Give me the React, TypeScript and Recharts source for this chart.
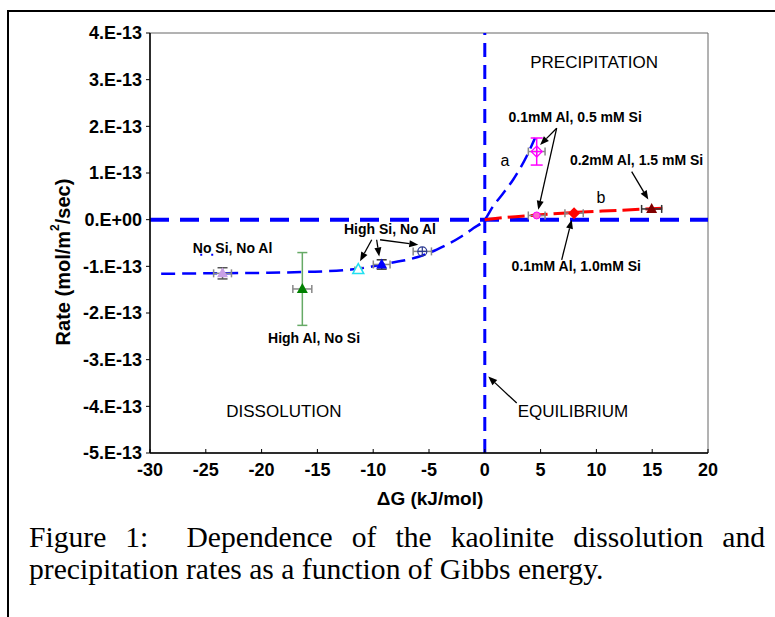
import React from 'react'
import {
  ComposedChart,
  Line,
  Scatter,
  XAxis,
  YAxis,
  ReferenceLine,
  ReferenceDot,
  ReferenceArea,
  ErrorBar
} from 'recharts'

const SANS = '"Liberation Sans", Arial, sans-serif'
const SERIF = '"Liberation Serif", "Times New Roman", serif'

const xTicks = [-30, -25, -20, -15, -10, -5, 0, 5, 10, 15, 20]
const yTicks = [-5e-13, -4e-13, -3e-13, -2e-13, -1e-13, 0, 1e-13, 2e-13, 3e-13, 4e-13]

// curve a (blue) and curve b (red)
const curveA = [
  { x: -29, y: -1.16e-13 },
  { x: -25, y: -1.15e-13 },
  { x: -20, y: -1.14e-13 },
  { x: -16, y: -1.12e-13 },
  { x: -12, y: -1.07e-13 },
  { x: -10, y: -1.0e-13 },
  { x: -8.5, y: -0.93e-13 },
  { x: -6, y: -0.8e-13 },
  { x: -4.3, y: -0.64e-13 },
  { x: -2.1, y: -0.36e-13 },
  { x: -1, y: -0.18e-13 },
  { x: 0, y: 0 },
  { x: 0.75, y: 0.29e-13 },
  { x: 1.6, y: 0.55e-13 },
  { x: 2.55, y: 0.86e-13 },
  { x: 3.75, y: 1.36e-13 },
  { x: 4.5, y: 1.75e-13 }
]
const curveB = [
  { x: 0, y: 0 },
  { x: 2, y: 0.05e-13 },
  { x: 4.65, y: 0.1e-13 },
  { x: 8, y: 0.155e-13 },
  { x: 12, y: 0.2e-13 },
  { x: 16.3, y: 0.25e-13 }
]
const strayDots = [
  { x: -25.5, y: -0.75e-13 },
  { x: -24.3, y: -0.75e-13 }
]

// measured points (ex = x error, ey = y error)
const noSiNoAl = [{ x: -23.5, y: -1.15e-13, ex: 0.8, ey: 0.12e-13 }]
const highAlNoSi = [{ x: -16.35, y: -1.485e-13, ex: 0.85, ey: 0.78e-13 }]
const highSiOpen = [{ x: -11.34, y: -1.07e-13, ex: 0.3, ey: 0.03e-13 }]
const highSiFilled = [{ x: -9.24, y: -0.96e-13, ex: 0.75, ey: 0.1e-13 }]
const highSiCircle = [{ x: -5.6, y: -0.68e-13, ex: 0.82, ey: 0.05e-13 }]
const al01si05High = [{ x: 4.65, y: 1.46e-13, ex: 0.75, ey: 0.29e-13 }]
const al01si05Low = [{ x: 4.65, y: 0.09e-13, ex: 0.75 }]
const al01si10 = [{ x: 8.0, y: 0.14e-13, ex: 0.82 }]
const al02si15 = [{ x: 14.95, y: 0.23e-13, ex: 0.9, ey: 0.04e-13 }]

const regionLabels = [
  { text: 'PRECIPITATION', x: 9.8, y: 3.36e-13 },
  { text: 'DISSOLUTION', x: -18.0, y: -4.11e-13 },
  { text: 'EQUILIBRIUM', x: 7.9, y: -4.11e-13 }
]
const noteLabels = [
  { text: '0.1mM Al, 0.5 mM Si', x: 8.1, y: 2.21e-13 },
  { text: '0.2mM Al, 1.5 mM Si', x: 13.6, y: 1.27e-13 },
  { text: '0.1mM Al, 1.0mM Si', x: 8.2, y: -1.0e-13 },
  { text: 'High Si, No Al', x: -8.5, y: -0.21e-13 },
  { text: 'No Si, No Al', x: -22.6, y: -0.61e-13 },
  { text: 'High Al, No Si', x: -15.3, y: -2.54e-13 }
]
const curveLabels = [
  { text: 'a', x: 1.8, y: 1.27e-13 },
  { text: 'b', x: 10.4, y: 0.47e-13 }
]

const arrows = [
  { x1: 6.44, y1: 1.96e-13, x2: 4.95, y2: 1.6e-13 },
  { x1: 6.44, y1: 1.96e-13, x2: 4.79, y2: 0.21e-13 },
  { x1: 13.16, y1: 1.03e-13, x2: 14.65, y2: 0.43e-13 },
  { x1: 6.89, y1: -0.86e-13, x2: 7.79, y2: 0.0 },
  { x1: -10.13, y1: -0.43e-13, x2: -11.18, y2: -0.89e-13 },
  { x1: -9.69, y1: -0.43e-13, x2: -9.46, y2: -0.79e-13 },
  { x1: -9.39, y1: -0.43e-13, x2: -5.96, y2: -0.54e-13 },
  { x1: 2.86, y1: -3.93e-13, x2: 0.31, y2: -3.36e-13 }
]

const fmtY = (v: number) => {
  const n = Math.round(v / 1e-13)
  return n === 0 ? '0.E+00' : `${n}.E-13`
}

const arrowShape = (p: any) => {
  const { x1, y1, x2, y2 } = p
  const ang = Math.atan2(y2 - y1, x2 - x1)
  const len = 9
  const w = 3.5
  const bx = x2 - len * Math.cos(ang)
  const by = y2 - len * Math.sin(ang)
  const px = -Math.sin(ang) * w
  const py = Math.cos(ang) * w
  return (
    <g>
      <line x1={x1} y1={y1} x2={bx} y2={by} stroke="#000" strokeWidth={1.3} />
      <polygon points={`${x2},${y2} ${bx + px},${by + py} ${bx - px},${by - py}`} fill="#000" />
    </g>
  )
}

const textShape = (text: string, size: number, weight: number) => (p: any) => (
  <text
    x={p.cx}
    y={p.cy}
    textAnchor="middle"
    dominantBaseline="central"
    fontFamily={SANS}
    fontSize={size}
    fontWeight={weight}
    fill="#000"
  >
    {text}
  </text>
)

const triangle = (fill: string, stroke = 'none') => (p: any) => (
  <polygon
    points={`${p.cx},${p.cy - 6} ${p.cx - 5.5},${p.cy + 4} ${p.cx + 5.5},${p.cy + 4}`}
    fill={fill}
    stroke={stroke}
    strokeWidth={1.5}
  />
)

const circleCross = (p: any) => (
  <g stroke="#2b3990" strokeWidth={1.2} fill="none">
    <circle cx={p.cx} cy={p.cy} r={4.5} />
    <line x1={p.cx - 4.5} x2={p.cx + 4.5} y1={p.cy} y2={p.cy} />
    <line x1={p.cx} x2={p.cx} y1={p.cy - 4.5} y2={p.cy + 4.5} />
  </g>
)

const diamondCross = (p: any) => (
  <g stroke="#ff00ff" strokeWidth={1.2} fill="none">
    <polygon points={`${p.cx},${p.cy - 5.5} ${p.cx + 5.5},${p.cy} ${p.cx},${p.cy + 5.5} ${p.cx - 5.5},${p.cy}`} />
    <line x1={p.cx - 5.5} x2={p.cx + 5.5} y1={p.cy} y2={p.cy} />
    <line x1={p.cx} x2={p.cx} y1={p.cy - 5.5} y2={p.cy + 5.5} />
  </g>
)

const smallPink = (p: any) => (
  <circle cx={p.cx} cy={p.cy} r={3.5} fill="#ff66cc" stroke="#ff00ff" strokeWidth={1} />
)

const diamond = (fill: string) => (p: any) => (
  <polygon
    points={`${p.cx},${p.cy - 6} ${p.cx + 6},${p.cy} ${p.cx},${p.cy + 6} ${p.cx - 6},${p.cy}`}
    fill={fill}
  />
)

const XTick = (p: any) => (
  <g>
    <line x1={p.x} x2={p.x} y1={p.y - 4} y2={p.y} stroke="#000" strokeWidth={1} />
    <text
      x={p.x}
      y={p.y + 17}
      textAnchor="middle"
      dominantBaseline="central"
      fontFamily={SANS}
      fontSize={18}
      fontWeight={700}
      fill="#000"
    >
      {p.payload.value}
    </text>
  </g>
)

const XTitle = (p: any) => {
  const vb = p.viewBox
  return (
    <text
      x={vb.x + vb.width / 2 + 1}
      y={vb.y + 45}
      textAnchor="middle"
      dominantBaseline="central"
      fontFamily={SANS}
      fontSize={19}
      fontWeight={700}
      fill="#000"
    >
      ΔG (kJ/mol)
    </text>
  )
}

const YTitle = (p: any) => {
  const vb = p.viewBox
  const cx = vb.x - 7
  const cy = vb.y + vb.height / 2 + 19
  return (
    <text
      transform={`translate(${cx},${cy}) rotate(-90)`}
      textAnchor="middle"
      dominantBaseline="central"
      fontFamily={SANS}
      fontSize={20}
      fontWeight={700}
      fill="#000"
    >
      <tspan>Rate (mol/m</tspan>
      <tspan fontSize={12} dy={-8}>2</tspan>
      <tspan dy={8}>/sec)</tspan>
    </text>
  )
}

export default function App() {
  return (
    <div style={{ position: 'absolute', left: 0, top: 0, width: 775, height: 617, background: '#fff', overflow: 'hidden' }}>
      <div
        style={{
          position: 'absolute',
          left: 7,
          top: 10,
          width: 780,
          height: 620,
          borderTop: '2px solid #000',
          borderLeft: '2px solid #000'
        }}
      />
      <div style={{ position: 'absolute', left: 0, top: 0 }}>
        <ComposedChart width={775} height={617} margin={{ top: 33, right: 67, bottom: 134, left: 70 }}>
          <XAxis
            type="number"
            dataKey="x"
            domain={[-30, 20]}
            ticks={xTicks}
            allowDataOverflow
            height={30}
            tickSize={0}
            tickMargin={0}
            tickLine={false}
            tick={XTick}
            axisLine={{ stroke: '#000', strokeWidth: 1.5 }}
            label={XTitle}
          />
          <YAxis
            type="number"
            dataKey="y"
            domain={[-5e-13, 4e-13]}
            ticks={yTicks}
            allowDataOverflow
            width={80}
            tickSize={4}
            tickMargin={4}
            tickFormatter={fmtY}
            tick={{ fill: '#000', fontSize: 18, fontWeight: 700, fontFamily: SANS }}
            tickLine={{ stroke: '#000' }}
            axisLine={{ stroke: '#000', strokeWidth: 1.5 }}
            label={YTitle}
          />
          <ReferenceArea x1={-30} x2={20} y1={-5e-13} y2={4e-13} fill="none" stroke="#666" strokeWidth={1} />
          <ReferenceLine y={0} stroke="#0000ff" strokeWidth={4} strokeDasharray="19 11" />
          <ReferenceLine x={0} stroke="#0000ff" strokeWidth={3} strokeDasharray="14 8" />
          <Line data={curveA} dataKey="y" type="monotone" stroke="#0000ff" strokeWidth={2.5} strokeDasharray="14 7" dot={false} isAnimationActive={false} />
          <Line data={curveB} dataKey="y" type="monotone" stroke="#ff0000" strokeWidth={3} strokeDasharray="17 6" dot={false} isAnimationActive={false} />
          <Line data={strayDots} dataKey="y" stroke="#0000ff" strokeWidth={2} strokeDasharray="2 9" dot={false} isAnimationActive={false} />

          <Scatter data={noSiNoAl} shape={triangle('#c9a0e6')} isAnimationActive={false}>
            <ErrorBar dataKey="ex" direction="x" width={4} stroke="#888" />
            <ErrorBar dataKey="ey" direction="y" width={5} stroke="#555" />
          </Scatter>
          <Scatter data={highAlNoSi} shape={triangle('#008000')} isAnimationActive={false}>
            <ErrorBar dataKey="ex" direction="x" width={4} stroke="#888" />
            <ErrorBar dataKey="ey" direction="y" width={5} stroke="#66aa66" />
          </Scatter>
          <Scatter data={highSiOpen} shape={triangle('#fff', '#22e0f0')} isAnimationActive={false}>
            <ErrorBar dataKey="ex" direction="x" width={3} stroke="#888" />
          </Scatter>
          <Scatter data={highSiFilled} shape={triangle('#0000ff')} isAnimationActive={false}>
            <ErrorBar dataKey="ex" direction="x" width={4} stroke="#888" />
            <ErrorBar dataKey="ey" direction="y" width={5} stroke="#333" />
          </Scatter>
          <Scatter data={highSiCircle} shape={circleCross} isAnimationActive={false}>
            <ErrorBar dataKey="ex" direction="x" width={4} stroke="#888" />
          </Scatter>
          <Scatter data={al01si05High} shape={diamondCross} isAnimationActive={false}>
            <ErrorBar dataKey="ex" direction="x" width={4} stroke="#888" />
            <ErrorBar dataKey="ey" direction="y" width={6} stroke="#ff00ff" />
          </Scatter>
          <Scatter data={al01si05Low} shape={smallPink} isAnimationActive={false}>
            <ErrorBar dataKey="ex" direction="x" width={4} stroke="#888" />
          </Scatter>
          <Scatter data={al01si10} shape={diamond('#ff0000')} isAnimationActive={false}>
            <ErrorBar dataKey="ex" direction="x" width={4} stroke="#888" />
          </Scatter>
          <Scatter data={al02si15} shape={triangle('#800000')} isAnimationActive={false}>
            <ErrorBar dataKey="ex" direction="x" width={4} stroke="#333" />
          </Scatter>

          {arrows.map((a, i) => (
            <ReferenceLine
              key={`arr-${i}`}
              segment={[{ x: a.x1, y: a.y1 }, { x: a.x2, y: a.y2 }]}
              shape={arrowShape}
            />
          ))}
          {regionLabels.map((l) => (
            <ReferenceDot key={l.text} x={l.x} y={l.y} r={0} shape={textShape(l.text, 17, 400)} />
          ))}
          {noteLabels.map((l) => (
            <ReferenceDot key={l.text} x={l.x} y={l.y} r={0} shape={textShape(l.text, 14, 700)} />
          ))}
          {curveLabels.map((l) => (
            <ReferenceDot key={l.text} x={l.x} y={l.y} r={0} shape={textShape(l.text, 16, 400)} />
          ))}
        </ComposedChart>
      </div>
      <div
        style={{
          position: 'absolute',
          left: 29,
          top: 521,
          width: 736,
          fontFamily: SERIF,
          fontSize: 29.6,
          lineHeight: '32px',
          color: '#000'
        }}
      >
        <div style={{ textAlign: 'justify', textAlignLast: 'justify', whiteSpace: 'nowrap' }}>
          Figure 1:&nbsp; Dependence of the kaolinite dissolution and
        </div>
        <div style={{ whiteSpace: 'nowrap' }}>precipitation rates as a function of Gibbs energy.</div>
      </div>
    </div>
  )
}
